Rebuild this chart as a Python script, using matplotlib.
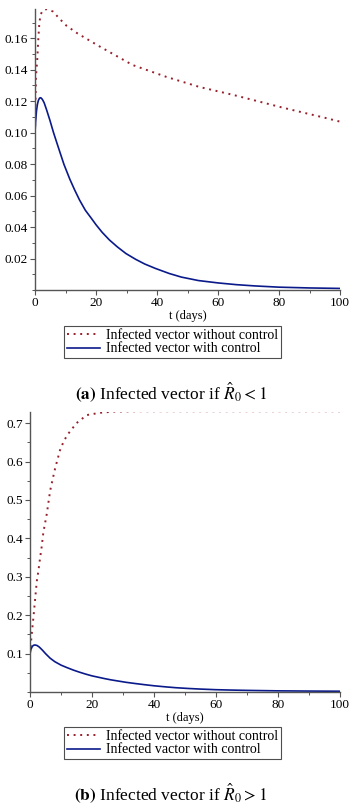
import matplotlib
matplotlib.use("Agg")
import matplotlib.pyplot as plt
from matplotlib.ticker import MultipleLocator, FixedLocator

plt.rcParams['font.family'] = ['Liberation Serif', 'DejaVu Serif']
plt.rcParams['mathtext.fontset'] = 'stix'

# ---- Panel (a): R0 < 1 ----
t_a_red = [0, 0.3, 0.75, 1.1, 1.4, 1.8, 2.6, 3.8, 5.9, 8, 10.3, 14, 21, 32, 43, 54, 65, 81, 96, 100]
v_a_red = [0.100, 0.135, 0.147, 0.160, 0.169, 0.175, 0.1778, 0.1785, 0.177, 0.1725, 0.168, 0.163,
           0.155, 0.143, 0.1355, 0.129, 0.124, 0.116, 0.109, 0.107]
t_a_blue = [0, 0.2, 0.5, 0.8, 1.1, 1.5, 1.9, 2.4, 3, 3.8, 4.9, 6, 7, 8.1, 9.5, 11.4, 13, 14.6, 16.5,
            18.5, 20, 22, 24.4, 27, 29.8, 33, 36, 39.5, 44, 48, 53.6, 60, 66, 72, 80, 90, 100]
v_a_blue = [0.100, 0.107, 0.114, 0.118, 0.1205, 0.122, 0.1222, 0.1212, 0.119, 0.1145, 0.1078, 0.1005,
            0.0945, 0.0880, 0.0798, 0.0705, 0.0636, 0.0572, 0.0507, 0.0455, 0.0415, 0.0367, 0.0318,
            0.0274, 0.0232, 0.0195, 0.0165, 0.0137, 0.0105, 0.0082, 0.0060, 0.0045, 0.0034, 0.0026,
            0.0018, 0.0013, 0.0010]

# ---- Panel (b): R0 > 1 ----
t_b_red = [0, 0.55, 1.1, 1.6, 2.2, 2.7, 3.2, 3.8, 4.3, 5.4, 6.5, 7.2, 8.1, 9.7, 11, 12.4, 15, 18.3,
           22.6, 27, 35, 50, 70, 100]
v_b_red = [0.100, 0.150, 0.194, 0.237, 0.289, 0.315, 0.346, 0.380, 0.415, 0.463, 0.524, 0.550, 0.582,
           0.630, 0.655, 0.673, 0.700, 0.721, 0.727, 0.730, 0.731, 0.731, 0.731, 0.731]
t_b_blue = [0, 0.3, 0.7, 1.1, 1.6, 2.3, 3, 4, 5, 6.5, 8, 10, 11.9, 14, 16, 18, 20, 22, 24, 26, 28.1,
            31, 34, 37, 40, 44, 47, 51, 55, 60, 65, 70, 80, 90, 100]
v_b_blue = [0.100, 0.111, 0.118, 0.1215, 0.1225, 0.121, 0.117, 0.109, 0.100, 0.088, 0.079, 0.070,
            0.0636, 0.0570, 0.0515, 0.0465, 0.0420, 0.0385, 0.0350, 0.0318, 0.0290, 0.0252, 0.0220,
            0.0190, 0.0162, 0.0132, 0.0112, 0.0092, 0.0076, 0.0060, 0.0050, 0.0042, 0.0030, 0.0024,
            0.0020]

labels_a = ["Infected vector without control", "Infected vector with control"]
labels_b = ["Infected vector without control", "Infected vactor with control"]
xlabel = "t (days)"
captions = [r"$\mathbf{(a)}$ Infected vector if $\hat{R}_0 < 1$",
            r"$\mathbf{(b)}$ Infected vector if $\hat{R}_0 > 1$"]
yticks_a = [0.02, 0.04, 0.06, 0.08, 0.10, 0.12, 0.14, 0.16]
yticks_b = [0.1, 0.2, 0.3, 0.4, 0.5, 0.6, 0.7]

RED = '#96202c'
BLUE = '#0a1a8a'
AXC = '#555555'

W, H = 357, 808
fig = plt.figure(figsize=(W / 100, H / 100), dpi=100)


def px_axes(left, right, top, bottom):
    return fig.add_axes([left / W, 1 - bottom / H, (right - left) / W, (bottom - top) / H])


def style(ax, ylim, yticks, ymin_step, yfmt):
    ax.set_xlim(0, 100)
    ax.set_ylim(*ylim)
    for s in ['top', 'right']:
        ax.spines[s].set_visible(False)
    for s in ['left', 'bottom']:
        ax.spines[s].set_color(AXC)
        ax.spines[s].set_linewidth(1.0)
    ax.xaxis.set_major_locator(MultipleLocator(20))
    ax.xaxis.set_minor_locator(MultipleLocator(10))
    ax.yaxis.set_major_locator(FixedLocator(yticks))
    ax.yaxis.set_minor_locator(MultipleLocator(ymin_step))
    ax.set_yticklabels([yfmt.format(v) for v in yticks])
    ax.tick_params(which='major', direction='out', length=3.5, width=0.8, color=AXC,
                   labelsize=9.5, pad=1.5)
    ax.tick_params(which='minor', direction='out', length=2, width=0.7, color=AXC)
    ax.set_xlabel(xlabel, fontsize=9, labelpad=1)
    ax.patch.set_alpha(0)


# Panel (a)
ax1 = px_axes(35, 340, 9, 290)
ax1.plot(t_a_red, v_a_red, color=RED, lw=1.4, linestyle=(0, (1, 2.4)), label=labels_a[0])
ax1.plot(t_a_blue, v_a_blue, color=BLUE, lw=1.2, label=labels_a[1])
style(ax1, (0, 0.1786), yticks_a, 0.01, "{:.2f}")

# Panel (b)
ax2 = px_axes(30, 340, 412, 692)
ax2.plot(t_b_red, v_b_red, color=RED, lw=1.4, linestyle=(0, (1, 2.4)), label=labels_b[0])
ax2.plot(t_b_blue, v_b_blue, color=BLUE, lw=1.2, label=labels_b[1])
style(ax2, (0, 0.729), yticks_b, 0.05, "{:.1f}")

for ax, top in [(ax1, 326), (ax2, 727)]:
    leg = ax.legend(loc='upper left', bbox_to_anchor=(64 / W, 1 - top / H),
                    bbox_transform=fig.transFigure, fontsize=10, frameon=True,
                    fancybox=False, borderpad=0.2, handlelength=2.4, handletextpad=0.4,
                    labelspacing=0.05, borderaxespad=0)
    leg.get_frame().set_edgecolor('#222222')
    leg.get_frame().set_linewidth(0.8)

fig.text(171 / W, 1 - 392 / H, captions[0], ha='center', va='center', fontsize=12.5)
fig.text(171 / W, 1 - 793 / H, captions[1], ha='center', va='center', fontsize=12.5)

fig.savefig("out.png", dpi=100)
